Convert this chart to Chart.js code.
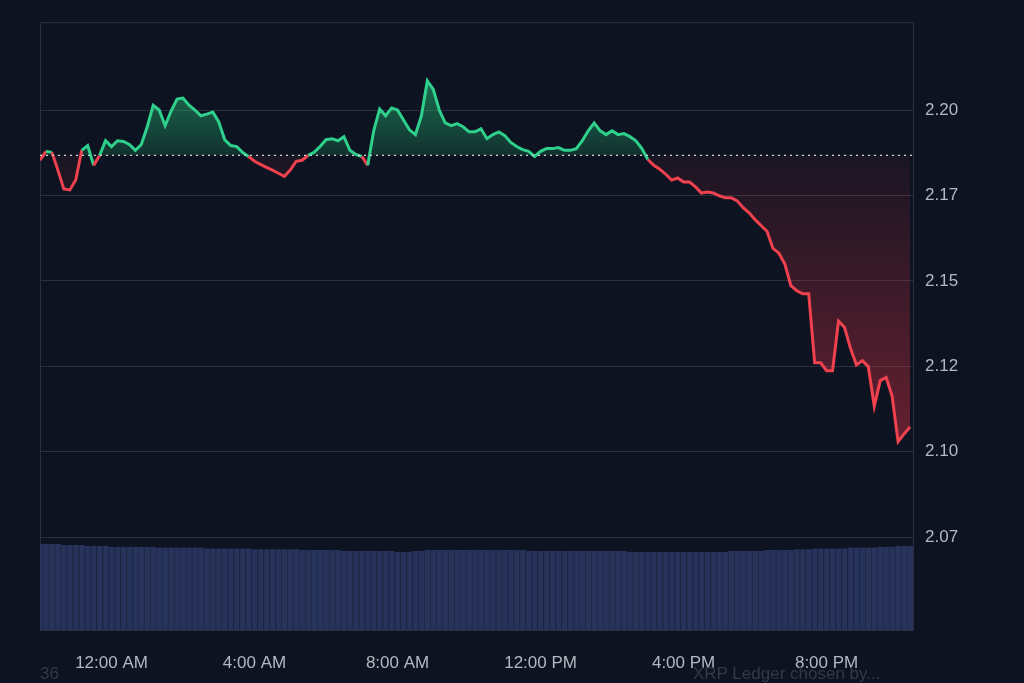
<!DOCTYPE html>
<html>
<head>
<meta charset="utf-8">
<script src="https://cdn.jsdelivr.net/npm/chart.js@4.4.1/dist/chart.umd.min.js"></script>
<style>
  html, body { margin: 0; padding: 0; background: #0d1320; }
  #wrap { position: relative; width: 1024px; height: 683px; overflow: hidden; }
  .foot { position: absolute; top: 664px; font-family: 'Liberation Sans', Arial, sans-serif; font-size: 17px; color: #333946; white-space: nowrap; }
</style>
</head>
<body>
<div id="wrap">
  <canvas id="chart" width="1024" height="683"></canvas>
  <div class="foot" style="left:40px">36</div>
  <div class="foot" style="left:693px">XRP Ledger chosen by...</div>
</div>
<script>
// ── Data ──────────────────────────────────────────────────────
// minutes relative to midnight, one point every 10 minutes from 10:00 PM
const startMinute = -120;
const stepMinutes = 10;
const prices = [
  2.1853, 2.1879, 2.1876, 2.1824, 2.1769, 2.1766, 2.1795, 2.1882, 2.1896, 2.1838,
  2.1867, 2.1910, 2.1893, 2.1910, 2.1908, 2.1899, 2.1882, 2.1899, 2.1951, 2.2014,
  2.2000, 2.1954, 2.1997, 2.2032, 2.2035, 2.2014, 2.2000, 2.1983, 2.1988, 2.1994,
  2.1965, 2.1913, 2.1896, 2.1893, 2.1876, 2.1864, 2.1850, 2.1841, 2.1832, 2.1824,
  2.1815, 2.1806, 2.1824, 2.1850, 2.1853, 2.1867, 2.1876, 2.1893, 2.1913, 2.1916,
  2.1910, 2.1922, 2.1882, 2.1870, 2.1864, 2.1838, 2.1939, 2.2003, 2.1983, 2.2006,
  2.2000, 2.1971, 2.1942, 2.1928, 2.1983, 2.2085, 2.2060, 2.2000, 2.1962, 2.1954,
  2.1960, 2.1951, 2.1936, 2.1936, 2.1945, 2.1916, 2.1928, 2.1936, 2.1925, 2.1905,
  2.1893, 2.1884, 2.1879, 2.1864, 2.1879, 2.1887, 2.1887, 2.1890, 2.1882, 2.1882,
  2.1887, 2.1910, 2.1939, 2.1962, 2.1939, 2.1928, 2.1939, 2.1928, 2.1931, 2.1922,
  2.1910, 2.1887, 2.1855, 2.1838, 2.1827, 2.1812, 2.1795, 2.1801, 2.1789, 2.1789,
  2.1775, 2.1757, 2.1760, 2.1757, 2.1749, 2.1743, 2.1743, 2.1734, 2.1714, 2.1699,
  2.1679, 2.1662, 2.1645, 2.1595, 2.1581, 2.1549, 2.1486, 2.1471, 2.1462, 2.1462,
  2.1260, 2.1260, 2.1237, 2.1237, 2.1382, 2.1364, 2.1303, 2.1254, 2.1266, 2.1249,
  2.1133, 2.1208, 2.1217, 2.1162, 2.1029, 2.1052, 2.1072
];
const volumes = [
  99, 99, 99, 99, 98, 98, 98, 98, 97, 97,
  97, 97, 96, 96, 96, 96, 96, 96, 96, 96,
  95, 95, 95, 95, 95, 95, 95, 95, 94, 94,
  94, 94, 94, 94, 94, 94, 93, 93, 93, 93,
  93, 93, 93, 93, 92, 92, 92, 92, 92, 92,
  92, 91, 91, 91, 91, 91, 91, 91, 91, 91,
  90, 90, 90, 91, 91, 92, 92, 92, 92, 92,
  92, 92, 92, 92, 92, 92, 92, 92, 92, 92,
  92, 92, 91, 91, 91, 91, 91, 91, 91, 91,
  91, 91, 91, 91, 91, 91, 91, 91, 91, 90,
  90, 90, 90, 90, 90, 90, 90, 90, 90, 90,
  90, 90, 90, 90, 90, 90, 91, 91, 91, 91,
  91, 91, 92, 92, 92, 92, 92, 93, 93, 93,
  94, 94, 94, 94, 94, 94, 95, 95, 95, 95,
  95, 96, 96, 96, 97, 97, 97
];
const baselinePrice = 2.1867;
const priceTicks = [2.075, 2.100, 2.125, 2.150, 2.175, 2.200];
const timeTicks = [0, 240, 480, 720, 960, 1200];
const timeLabels = ['12:00 AM', '4:00 AM', '8:00 AM', '12:00 PM', '4:00 PM', '8:00 PM'];

const UP = '#2fd08c';
const DOWN = '#f0414f';
const GRID = '#2a303d';
const TEXT = '#b4b8c2';

const pricePoints = prices.map((p, i) => ({ x: startMinute + i * stepMinutes, y: p }));
const volumePoints = volumes.map((v, i) => ({ x: startMinute + i * stepMinutes, y: v }));

// ── Plugins ───────────────────────────────────────────────────
const frame = {
  id: 'frame',
  beforeDatasetsDraw(chart) {
    const { ctx, chartArea: a } = chart;
    ctx.save();
    ctx.strokeStyle = GRID;
    ctx.lineWidth = 1;
    ctx.strokeRect(a.left + 0.5, a.top + 0.5, a.right - a.left, a.bottom - a.top);
    ctx.restore();
  }
};

function fillGradient(c, up) {
  const y = c.chart.scales.y;
  const base = y.getPixelForValue(baselinePrice);
  if (up) {
    const g = c.chart.ctx.createLinearGradient(0, y.getPixelForValue(2.21), 0, base);
    g.addColorStop(0, 'rgba(40,190,120,0.55)');
    g.addColorStop(1, 'rgba(40,190,120,0.18)');
    return g;
  }
  const g = c.chart.ctx.createLinearGradient(0, base, 0, y.getPixelForValue(2.10));
  g.addColorStop(0, 'rgba(200,50,70,0.08)');
  g.addColorStop(1, 'rgba(220,50,70,0.45)');
  return g;
}

// ── Chart ─────────────────────────────────────────────────────
new Chart(document.getElementById('chart'), {
  data: {
    datasets: [
      {
        type: 'line',
        data: pricePoints,
        yAxisID: 'y',
        borderWidth: 3,
        pointRadius: 0,
        tension: 0,
        segment: {
          borderColor: c => ((c.p0.parsed.y + c.p1.parsed.y) / 2 >= baselinePrice ? UP : DOWN),
        },
        fill: {
          target: { value: baselinePrice },
          above: c => (c.chart.chartArea ? fillGradient(c, true) : 'rgba(40,190,120,0.3)'),
          below: c => (c.chart.chartArea ? fillGradient(c, false) : 'rgba(200,50,70,0.2)'),
        },
        order: 1,
      },
      {
        type: 'line',
        data: [{ x: -120, y: baselinePrice }, { x: 1345, y: baselinePrice }],
        yAxisID: 'y',
        borderColor: '#d0d3da',
        borderWidth: 1.2,
        borderDash: [2, 4],
        pointRadius: 0,
        fill: false,
        order: 0,
      },
      {
        type: 'bar',
        data: volumePoints,
        yAxisID: 'vol',
        backgroundColor: '#27335a',
        borderColor: '#1f2947',
        borderWidth: { left: 1 },
        barPercentage: 1,
        categoryPercentage: 1,
        order: 2,
      },
    ],
  },
  options: {
    responsive: false,
    animation: false,
    layout: { padding: { left: 40, top: 8, right: 0, bottom: 0 } },
    plugins: { legend: { display: false }, tooltip: { enabled: false } },
    scales: {
      x: {
        type: 'linear',
        offset: false,
        min: -120,
        max: 1345,
        grid: { display: false },
        border: { display: false },
        afterBuildTicks: s => { s.ticks = timeTicks.map(v => ({ value: v })); },
        afterFit: s => { s.height = 53; },
        ticks: {
          color: TEXT,
          padding: 15,
          maxRotation: 0,
          autoSkip: false,
          font: { family: 'Liberation Sans', size: 17 },
          callback: v => timeLabels[timeTicks.indexOf(v)],
        },
      },
      y: {
        position: 'right',
        min: 2.0478,
        max: 2.2257,
        grid: { color: GRID, drawTicks: false },
        border: { display: false },
        afterBuildTicks: s => { s.ticks = priceTicks.map(v => ({ value: v })); },
        afterFit: s => { s.width = 111; },
        ticks: {
          color: TEXT,
          padding: 12,
          font: { family: 'Liberation Sans', size: 17 },
          callback: v => (Math.floor(v * 100 + 1e-6) / 100).toFixed(2),
        },
      },
      vol: {
        display: false,
        min: 0,
        max: 700,
      },
    },
  },
  plugins: [frame],
});
</script>
</body>
</html>
